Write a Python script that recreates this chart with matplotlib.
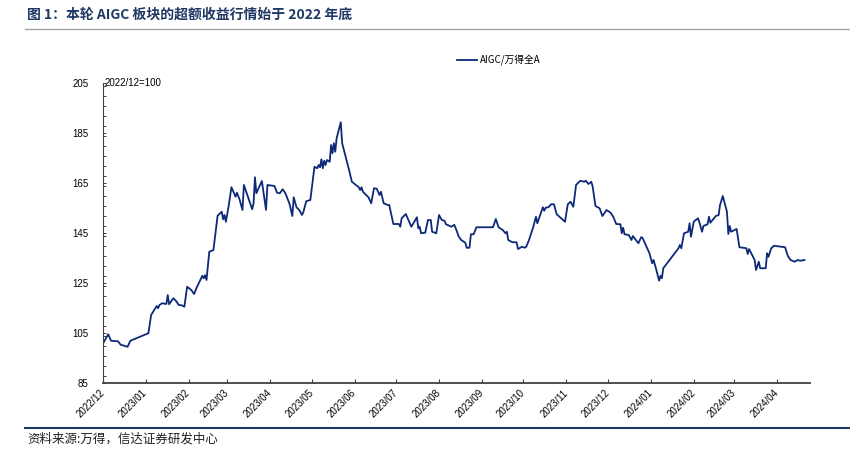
import matplotlib
matplotlib.use("Agg")
import matplotlib.pyplot as plt
import matplotlib.dates as mdates
from matplotlib.lines import Line2D
from matplotlib.ticker import MultipleLocator
import pandas as pd

plt.rcParams['font.family'] = ['Liberation Sans', 'Noto Sans CJK SC', 'DejaVu Sans']

title = "图 1：本轮 AIGC 板块的超额收益行情始于 2022 年底"
source = "资料来源:万得，信达证券研发中心"
series_name = "AIGC/万得全A"
base_note = "2022/12=100"

dates = [
    "2022-12-01", "2022-12-05", "2022-12-07", "2022-12-12", "2022-12-14", "2022-12-19", "2022-12-21",
    "2023-01-03", "2023-01-05", "2023-01-09", "2023-01-10", "2023-01-11", "2023-01-13", "2023-01-16",
    "2023-01-17", "2023-01-18", "2023-01-21", "2023-01-23", "2023-01-25", "2023-01-27", "2023-01-29",
    "2023-01-31", "2023-02-03", "2023-02-05", "2023-02-07", "2023-02-11", "2023-02-12", "2023-02-13",
    "2023-02-14", "2023-02-16", "2023-02-19", "2023-02-22", "2023-02-25", "2023-02-26", "2023-02-27",
    "2023-02-28", "2023-03-02", "2023-03-04", "2023-03-07", "2023-03-08", "2023-03-10", "2023-03-12",
    "2023-03-13", "2023-03-19", "2023-03-20", "2023-03-21", "2023-03-22", "2023-03-26", "2023-03-29",
    "2023-03-30", "2023-04-04", "2023-04-06", "2023-04-08", "2023-04-10", "2023-04-12", "2023-04-15",
    "2023-04-17", "2023-04-18", "2023-04-20", "2023-04-22", "2023-04-24", "2023-04-25", "2023-04-27",
    "2023-04-30", "2023-05-03", "2023-05-05", "2023-05-06", "2023-05-07", "2023-05-08", "2023-05-09",
    "2023-05-10", "2023-05-11", "2023-05-12", "2023-05-14", "2023-05-15", "2023-05-16", "2023-05-17",
    "2023-05-18", "2023-05-19", "2023-05-22", "2023-05-23", "2023-05-28", "2023-05-30", "2023-06-01",
    "2023-06-04", "2023-06-05", "2023-06-06", "2023-06-07", "2023-06-11", "2023-06-13", "2023-06-15",
    "2023-06-17", "2023-06-19", "2023-06-20", "2023-06-22", "2023-06-25", "2023-06-26", "2023-06-29",
    "2023-07-03", "2023-07-04", "2023-07-05", "2023-07-08", "2023-07-12", "2023-07-16", "2023-07-17",
    "2023-07-18", "2023-07-19", "2023-07-22", "2023-07-24", "2023-07-26", "2023-07-27", "2023-07-30",
    "2023-08-01", "2023-08-03", "2023-08-05", "2023-08-06", "2023-08-10", "2023-08-12", "2023-08-14",
    "2023-08-15", "2023-08-17", "2023-08-20", "2023-08-21", "2023-08-23", "2023-08-24", "2023-08-26",
    "2023-08-28", "2023-09-09", "2023-09-11", "2023-09-13", "2023-09-16", "2023-09-18", "2023-09-19",
    "2023-09-20", "2023-09-23", "2023-09-26", "2023-09-27", "2023-09-30", "2023-10-02", "2023-10-03",
    "2023-10-05", "2023-10-08", "2023-10-10", "2023-10-11", "2023-10-15", "2023-10-16", "2023-10-17",
    "2023-10-19", "2023-10-21", "2023-10-23", "2023-10-25", "2023-10-29", "2023-10-31", "2023-11-02",
    "2023-11-04", "2023-11-06", "2023-11-08", "2023-11-11", "2023-11-14", "2023-11-15", "2023-11-17",
    "2023-11-19", "2023-11-20", "2023-11-22", "2023-11-25", "2023-11-27", "2023-11-30", "2023-12-03",
    "2023-12-05", "2023-12-07", "2023-12-10", "2023-12-11", "2023-12-12", "2023-12-13", "2023-12-16",
    "2023-12-18", "2023-12-19", "2023-12-23", "2023-12-25", "2023-12-26", "2023-12-31", "2024-01-02",
    "2024-01-03", "2024-01-05", "2024-01-07", "2024-01-08", "2024-01-09", "2024-01-10", "2024-01-21",
    "2024-01-22", "2024-01-23", "2024-01-25", "2024-01-28", "2024-01-29", "2024-01-30", "2024-02-01",
    "2024-02-04", "2024-02-05", "2024-02-07", "2024-02-08", "2024-02-11", "2024-02-12", "2024-02-13",
    "2024-02-17", "2024-02-19", "2024-02-20", "2024-02-22", "2024-02-25", "2024-02-26", "2024-02-27",
    "2024-02-28", "2024-03-03", "2024-03-05", "2024-03-10", "2024-03-11", "2024-03-12", "2024-03-16",
    "2024-03-17", "2024-03-19", "2024-03-20", "2024-03-24", "2024-03-25", "2024-03-26", "2024-03-28",
    "2024-03-30", "2024-04-07", "2024-04-09", "2024-04-11", "2024-04-14", "2024-04-16", "2024-04-18",
    "2024-04-21",
]

values = [
    100.6, 104.5, 101.9, 101.7, 100.3, 99.5, 101.9,
    104.9, 112.2, 115.8, 114.9, 116.2, 116.9, 116.6,
    120.2, 116.5, 118.9, 117.8, 116.2, 116.1, 115.5,
    123.5, 122.2, 120.6, 123.3, 127.9, 126.9, 128.1,
    126.2, 137.5, 138.2, 151.9, 153.5, 150.5, 152.2,
    149.5, 155.8, 163.3, 159.5, 161.1, 158.2, 154.2,
    164.2, 154.5, 156.9, 167.3, 160.9, 165.8, 154.2,
    164.2, 163.8, 161.1, 160.9, 162.5, 160.9, 156.6,
    151.8, 159.3, 155.3, 154.2, 152.2, 153.4, 157.7,
    158.2, 171.5, 170.9, 172.2, 171.3, 174.5, 170.9,
    173.9, 172.2, 174.2, 173.5, 180.2, 176.9, 180.9,
    177.5, 182.9, 189.3, 180.9, 170.2, 165.5, 164.6,
    163.3, 162.2, 163.3, 161.5, 159.3, 156.9, 162.9,
    162.7, 160.2, 161.5, 156.9, 156.2, 156.2, 148.6,
    148.6, 147.5, 150.9, 152.6, 147.5, 151.3, 146.9,
    147.5, 144.9, 145.1, 150.2, 150.2, 145.5, 144.9,
    152.2, 150.2, 149.9, 148.5, 147.5, 148.3, 145.5,
    143.8, 142.2, 141.1, 139.1, 139.1, 144.5, 144.5,
    147.3, 147.3, 150.6, 147.3, 146.2, 144.9, 145.5,
    142.2, 141.3, 141.3, 138.6, 139.5, 139.1, 139.5,
    142.2, 147.3, 151.5, 148.9, 155.3, 153.9, 155.1,
    155.3, 156.5, 156.5, 152.5, 150.5, 149.5, 156.5,
    157.5, 155.5, 164.2, 165.9, 165.5, 165.9, 164.6,
    165.5, 163.5, 155.8, 154.9, 151.8, 154.2, 153.1,
    151.3, 148.6, 148.5, 144.9, 147.1, 144.5, 144.2,
    142.2, 143.8, 140.9, 143.3, 143.1, 136.9, 132.9,
    134.2, 130.2, 125.9, 127.9, 126.9, 130.9, 138.9,
    140.2, 138.9, 144.9, 145.5, 148.9, 143.5, 149.5,
    150.9, 149.5, 145.5, 147.8, 148.5, 151.5, 149.1,
    151.8, 152.2, 156.2, 159.8, 153.5, 144.6, 147.8,
    145.5, 146.6, 139.3, 138.9, 136.6, 138.6, 134.2,
    130.2, 133.5, 130.9, 130.9, 136.9, 135.5, 138.9,
    139.9, 139.3, 135.8, 134.2, 133.5, 134.2, 133.9,
    134.2,
]

tick_months = pd.date_range("2022-12-01", "2024-04-01", freq="MS")
tick_labels = [d.strftime("%Y/%m") for d in tick_months]
y_ticks = [85, 105, 125, 145, 165, 185, 205]

line_color = "#0d2a78"
title_color = "#1f3864"
axis_color = "#404040"

fig = plt.figure(figsize=(8.5, 4.62), dpi=100)
ax = fig.add_axes([102.7 / 850, 1 - 383 / 462, (810 - 102.7) / 850, (383 - 83) / 462])

x = pd.to_datetime(dates)
ax.plot(x, values, color=line_color, lw=1.3, label=series_name)

ax.set_xlim(pd.Timestamp("2022-12-01"), pd.Timestamp("2024-04-25"))
ax.set_ylim(85, 205)
ax.set_yticks(y_ticks)
ax.set_yticklabels([str(v) for v in y_ticks], fontsize=7)
ax.yaxis.set_minor_locator(MultipleLocator(4))
ax.set_xticks(tick_months)
ax.set_xticklabels(tick_labels, fontsize=7, rotation=45, ha="right", va="center",
                   rotation_mode="anchor")

for s in ["top", "right"]:
    ax.spines[s].set_visible(False)
ax.spines["left"].set_color(axis_color)
ax.spines["left"].set_linewidth(0.8)
ax.spines["bottom"].set_color(axis_color)
ax.spines["bottom"].set_linewidth(1.3)

ax.tick_params(axis="y", which="both", direction="in", length=2.5, width=0.7,
               color=axis_color, pad=10, labelcolor="#000000")
ax.tick_params(axis="x", which="major", direction="in", length=3, width=0.8,
               color=axis_color, pad=6, labelcolor="#000000")

ax.text(0.003, 1.0, base_note, transform=ax.transAxes, fontsize=7, ha="left", va="center")

fig.legend(loc="center left", bbox_to_anchor=(457 / 850, 1 - 60 / 462), frameon=False,
           fontsize=7, handlelength=2.1, handletextpad=0.3, borderpad=0, borderaxespad=0,
           prop={"family": ["Noto Sans CJK SC", "DejaVu Sans"], "size": 7})

fig.text(27 / 850, 1 - 15 / 462, title, fontsize=10, fontweight="bold", color=title_color,
         ha="left", va="center", family=["Noto Sans CJK SC", "DejaVu Sans"])
fig.add_artist(Line2D([25 / 850, 1.0], [1 - 29 / 462, 1 - 29 / 462], color="#a6a6a6", lw=1.0))
fig.add_artist(Line2D([25 / 850, 1.0], [1 - 428 / 462, 1 - 428 / 462], color=title_color, lw=1.5))
fig.text(27 / 850, 1 - 439 / 462, source, fontsize=9, color="#222222", ha="left", va="center",
         family=["Noto Sans CJK SC", "DejaVu Sans"])

fig.savefig("out.png", dpi=100)
